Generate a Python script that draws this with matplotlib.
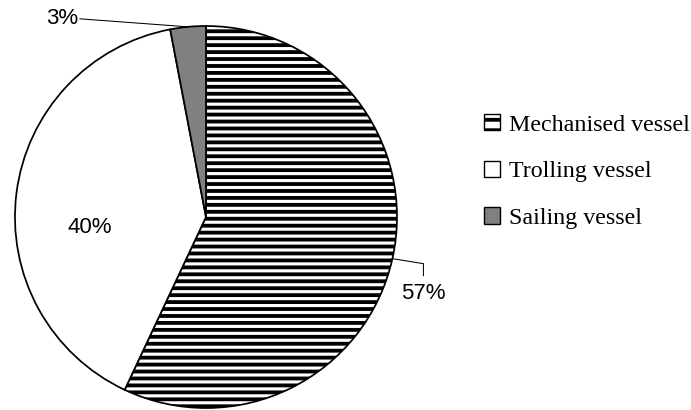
import numpy as np
import matplotlib
matplotlib.use("Agg")
import matplotlib.pyplot as plt
from matplotlib.patches import Patch

DPI = 125
W, H = 691, 410

categories = ['Mechanised vessel', 'Trolling vessel', 'Sailing vessel']
shares = [57, 40, 3]
pct_labels = ['57%', '40%', '3%']
colors = ['white', 'white', '#808080']
hatches = ['---', '', '']
explode = [0.0, 0.03, 0.015]

plt.rcParams['hatch.linewidth'] = 2.2

fig = plt.figure(figsize=(W / DPI, H / DPI), dpi=DPI)
ax = fig.add_axes([0, 0, 1, 1])

# work in pixel units: 1 data unit = 1 px
R = 191
cx, cy = 206, H - 217
wedges, _ = ax.pie(shares, radius=R, center=(cx, cy), startangle=90,
                   counterclock=False, colors=colors, explode=explode,
                   wedgeprops=dict(edgecolor='black', linewidth=1.0))
for w, h in zip(wedges, hatches):
    w.set_hatch(h)

ax.set_xlim(0, W)
ax.set_ylim(0, H)
ax.set_aspect('equal')
ax.axis('off')

sans = dict(family='Liberation Sans', fontsize=12.8, color='black')


def edge_point(w):
    ang = np.deg2rad((w.theta1 + w.theta2) / 2)
    x0, y0 = w.center
    return x0 + w.r * np.cos(ang), y0 + w.r * np.sin(ang)


# 57% label with elbow leader
ex, ey = edge_point(wedges[0])
kx, ky = ex + 31, ey - 5
ax.plot([ex, kx, kx], [ey, ky, ky - 12], color='black', lw=0.6)
ax.text(kx, ky - 30, pct_labels[0], ha='center', va='center', **sans)

# 40% label inside slice
ang = np.deg2rad(185)
ax.text(cx + 0.61 * R * np.cos(ang), cy + 0.61 * R * np.sin(ang),
        pct_labels[1], ha='center', va='center', **sans)

# 3% label with leader line
ex, ey = edge_point(wedges[2])
tx, ty = ex - 110, ey + 8
ax.plot([ex, tx + 2], [ey, ty], color='black', lw=0.6)
ax.text(tx, ty, pct_labels[2], ha='right', va='center', **sans)

handles = [Patch(facecolor=c, edgecolor='black', hatch=h, linewidth=0.8)
           for c, h in zip(colors, ['--', '', ''])]
leg = fig.legend(handles, categories, loc='center left',
                 bbox_to_anchor=(484 / W, 1 - 171.5 / H), frameon=False,
                 prop=dict(family='Liberation Serif', size=13.8),
                 handlelength=0.68, handleheight=0.68, handletextpad=0.35,
                 labelspacing=1.05, borderpad=0, borderaxespad=0)

fig.savefig('out.png', dpi=DPI)
